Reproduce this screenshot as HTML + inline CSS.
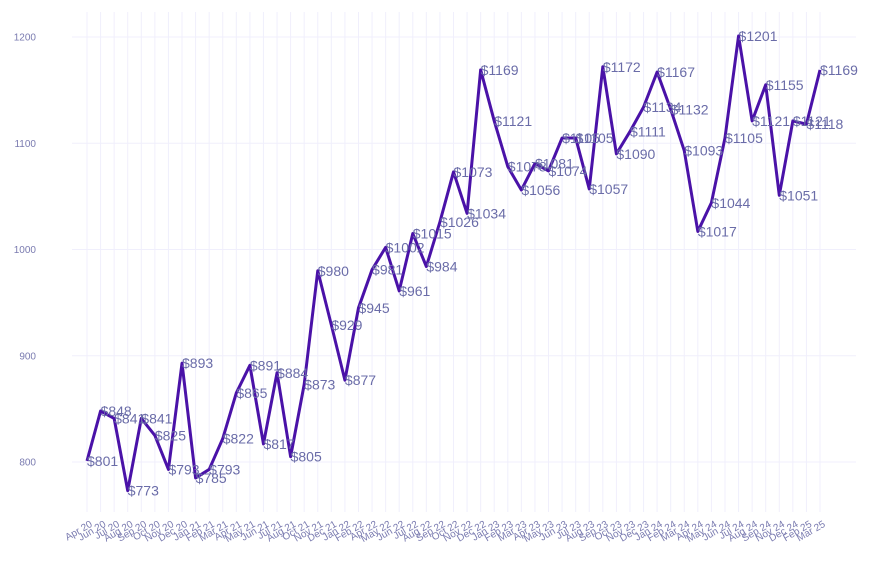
<!DOCTYPE html>
<html><head><meta charset="utf-8"><style>
body{margin:0;background:#fff;}
svg{display:block;font-family:"Liberation Sans",sans-serif;}
</style></head><body>
<svg id="chart" width="872" height="565">
<g id="grid"></g>
<g id="yaxis"></g>
<g id="xaxis"></g>
<path id="line" fill="none" stroke="#4a12a8" stroke-width="3" stroke-linejoin="round"></path>
<g id="labels"></g>
</svg>
<script>
const categories=["Apr 20","Jun 20","Jul 20","Aug 20","Sep 20","Oct 20","Nov 20","Dec 20","Jan 21","Feb 21","Mar 21","Apr 21","May 21","Jun 21","Jul 21","Aug 21","Oct 21","Nov 21","Dec 21","Jan 22","Feb 22","Apr 22","May 22","Jun 22","Jul 22","Aug 22","Sep 22","Oct 22","Nov 22","Dec 22","Jan 23","Feb 23","Mar 23","Apr 23","May 23","Jun 23","Jul 23","Aug 23","Sep 23","Oct 23","Nov 23","Dec 23","Jan 24","Feb 24","Mar 24","Apr 24","May 24","Jun 24","Jul 24","Aug 24","Sep 24","Nov 24","Dec 24","Feb 25","Mar 25"];
const values=[801,848,841,773,841,825,793,893,785,793,822,865,891,817,884,805,873,980,929,877,945,981,1002,961,1015,984,1026,1073,1034,1169,1121,1078,1056,1081,1074,1105,1105,1057,1172,1090,1111,1134,1167,1132,1093,1017,1044,1105,1201,1121,1155,1051,1121,1118,1169];
const yTicks=[800,900,1000,1100,1200];
const NS="http://www.w3.org/2000/svg";
const x0=87,x1=820,yBase=462,yScale=425/400;
function xPos(i){return x0+(x1-x0)*i/(categories.length-1);}
function yPos(v){return yBase-(v-800)*yScale;}
function mk(tag,attrs,parent){const e=document.createElementNS(NS,tag);for(const k in attrs)e.setAttribute(k,attrs[k]);parent.appendChild(e);return e;}
const grid=document.getElementById('grid'),ya=document.getElementById('yaxis'),xa=document.getElementById('xaxis'),lab=document.getElementById('labels');
categories.forEach((c,i)=>{
  const l=mk('line',{x1:xPos(i),x2:xPos(i),y1:12,y2:512,stroke:'#f0effc','stroke-width':1},grid);
  
  
  const t=mk('text',{x:0,y:0,'font-size':10,fill:'#7a7bb0','text-anchor':'end',transform:`translate(${xPos(i)+6},${526}) rotate(-30)`},xa);
  t.textContent=c;
  
  
});
yTicks.forEach(v=>{
  const l=mk('line',{x1:72,x2:856,y1:yPos(v),y2:yPos(v),stroke:'#f0effc','stroke-width':1},grid);
  
  
  const t=mk('text',{x:36,y:yPos(v)+3.5,'font-size':10,fill:'#7a7bb0','text-anchor':'end'},ya);
  t.textContent=v;
  
  
});
document.getElementById('line').setAttribute('d',values.map((v,i)=>(i?'L':'M')+xPos(i)+','+yPos(v)).join(''));
values.forEach((v,i)=>{
  const t=mk('text',{x:xPos(i),y:yPos(v)+5,'font-size':14,fill:'#6a6ca8'},lab);
  t.textContent='$'+v;
  
  
});
</script>
</body></html>
